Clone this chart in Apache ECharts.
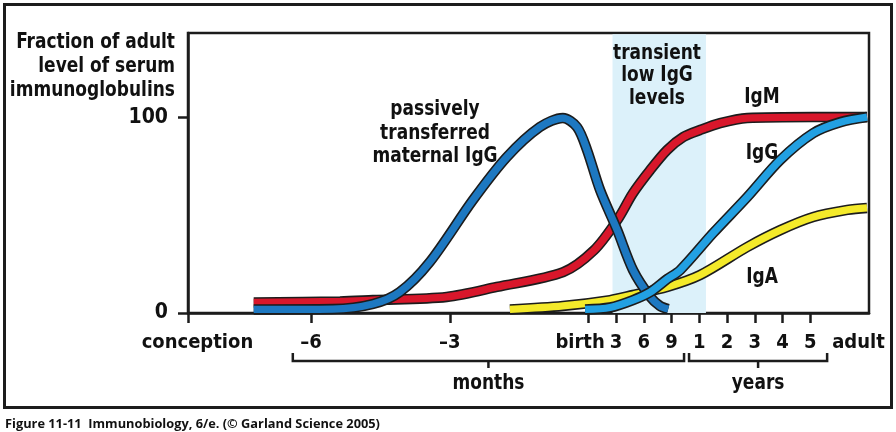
<!DOCTYPE html>
<html><head><meta charset="utf-8">
<script src="https://cdn.jsdelivr.net/npm/echarts@6/dist/echarts.min.js"></script>
<style>html,body{margin:0;padding:0;background:#fff}#c{width:896px;height:432px}</style>
</head><body><div id="c"></div><script>
const FONT = "'Liberation Sans Narrow','Arial Narrow','DejaVu Sans Condensed',sans-serif";
// x positions in "display units": birth = 0, each post-birth tick = 1
const xTickVals = [-14.44, -10, -5, 0, 1, 2, 3, 4, 5, 6, 7, 8];
const xLabelVals = [-14.1, -10, -5, -0.3, 1, 2, 3, 4, 5, 6, 7, 8, 9.74];
const xLabelTexts = ['conception', '–6', '–3', 'birth', '3', '6', '9', '1', '2', '3', '4', '5', 'adult'];
const yTickVals = [0, 100];
const igM = [[-12.07,5.4],[-8.96,5.9],[-7.77,6.6],[-5.11,8.2],[-3.3,13.3],[-0.91,20.9],[0.2,32.0],[1.04,47.4],[1.61,61.2],[2.23,73],[2.84,83.2],[3.42,89.8],[4.03,93.4],[4.75,96.9],[5.73,99.5],[8.11,100],[10.05,100]];
const igGMaternal = [[-12.07,1.8],[-9.22,2.0],[-7.77,4.6],[-6.8,10.7],[-5.72,26.0],[-4.16,57.7],[-2.94,79.6],[-1.75,94.9],[-0.92,99.5],[-0.41,94.9],[-0.05,83.2],[0.42,62.8],[1.04,42.3],[1.61,21.9],[2.23,8.2],[2.58,3.6],[2.88,2.0]];
const igGInfant = [[-0.12,1.8],[0.78,2.8],[1.61,6.6],[2.23,10.7],[2.84,17.3],[3.31,21.9],[4.5,40.8],[5.73,59.2],[6.92,78.1],[8.11,91.8],[9.09,97.4],[10.05,100]];
const igA = [[-2.83,1.8],[-0.92,3.6],[0.78,6.6],[1.61,9.2],[2.84,13.3],[4.03,19.4],[5.73,33.7],[6.92,42.3],[8.11,49],[9.34,52.6],[10.05,53.6]];
const lowIgGBand = [0.87, 4.24];
const monthsBracket = [-10.66, 3.45];
const yearsBracket = [3.63, 8.61];

const chart = echarts.init(document.getElementById('c'), null, {renderer: 'canvas'});
const INK = '#1c1c1c';
let zc = 2;
function curve(data, color) {
  const base = {type: 'line', data: data, smooth: 0.3, symbol: 'none', silent: true, clip: false};
  const a = Object.assign({}, base, {z: zc++, lineStyle: {color: INK, width: 10.5, cap: 'butt'}});
  const b = Object.assign({}, base, {z: zc++, lineStyle: {color: color, width: 7.3, cap: 'butt'}});
  return [a, b];
}
const txt = {fontFamily: FONT, fontWeight: 'bold', fontSize: 20, color: '#111'};
function findLabel(v) {
  for (let i = 0; i < xLabelVals.length; i++) if (Math.abs(xLabelVals[i] - v) < 1e-6) return xLabelTexts[i];
  return '';
}
const series = [
  {type: 'line', data: [], silent: true, z: 1,
   markArea: {silent: true, itemStyle: {color: '#dcf1fa'},
     data: [[{xAxis: lowIgGBand[0], yAxis: 0}, {xAxis: lowIgGBand[1], yAxis: 142.2}]]}}
].concat(curve(igA, '#f4ea2a'), curve(igM, '#d8172b'), curve(igGMaternal, '#1d78c1'), curve(igGInfant, '#22a0e2'));

chart.setOption({
  animation: false,
  grid: {left: 188, right: 27, top: 33, bottom: 119, show: true, borderColor: INK, borderWidth: 2.5},
  xAxis: {type: 'value', min: -14.44, max: 10.12,
    axisLine: {show: true, onZero: false, lineStyle: {color: INK, width: 2.5}},
    axisTick: {show: true, customValues: xTickVals, length: 10, lineStyle: {color: INK, width: 2.5}},
    axisLabel: {customValues: xLabelVals, formatter: findLabel, margin: 20, hideOverlap: false, ...txt},
    splitLine: {show: false}},
  yAxis: {type: 'value', min: 0, max: 142.9,
    axisLine: {show: true, onZero: false, lineStyle: {color: INK, width: 2.5}},
    axisTick: {show: true, customValues: yTickVals, length: 10, lineStyle: {color: INK, width: 2.5}},
    axisLabel: {customValues: yTickVals, margin: 20, ...txt, fontSize: 21},
    splitLine: {show: false}},
  series: series
});

function px(v) { return chart.convertToPixel({xAxisIndex: 0}, v); }
function bracket(r) {
  const x0 = px(r[0]), x1 = px(r[1]), xm = (x0 + x1) / 2;
  return [
    {type: 'polyline', z: 100, shape: {points: [[x0, 353], [x0, 361], [x1, 361], [x1, 353]]}, style: {stroke: INK, lineWidth: 2.5, fill: null}},
    {type: 'line', z: 100, shape: {x1: xm, y1: 361, x2: xm, y2: 368}, style: {stroke: INK, lineWidth: 2.5}}
  ];
}
function label(text, x, y, align, lh) {
  return {type: 'text', z: 100, x: x, y: y, scaleX: 0.86, style: {text: text, align: align || 'center', verticalAlign: 'middle', lineHeight: lh || 23,
    fontFamily: FONT, fontWeight: 'bold', fontSize: 22, fill: '#111'}};
}
const mb = bracket(monthsBracket), yb = bracket(yearsBracket);
chart.setOption({
  graphic: [
    {type: 'rect', z: 100, shape: {x: 4.5, y: 4.5, width: 887, height: 403}, style: {stroke: INK, lineWidth: 3, fill: null}},
    label('Fraction of adult\nlevel of serum\nimmunoglobulins', 175, 66, 'right', 24),
    label('passively\ntransferred\nmaternal IgG', 435, 133, 'center', 23.5),
    label('transient\nlow IgG\nlevels', 657, 75.5, 'center', 22.5),
    label('IgM', 762, 97),
    label('IgG', 762, 153),
    label('IgA', 762, 277),
    label('months', (px(monthsBracket[0]) + px(monthsBracket[1])) / 2, 383),
    label('years', (px(yearsBracket[0]) + px(yearsBracket[1])) / 2, 383),
    mb[0], mb[1], yb[0], yb[1],
    {type: 'text', z: 100, x: 5, y: 424, style: {text: 'Figure 11-11  Immunobiology, 6/e. (© Garland Science 2005)', align: 'left', verticalAlign: 'middle',
      fontFamily: "'Open Sans', sans-serif", fontWeight: 'bold', fontSize: 12.8, fill: '#111'}}
  ]
});
</script></body></html>
